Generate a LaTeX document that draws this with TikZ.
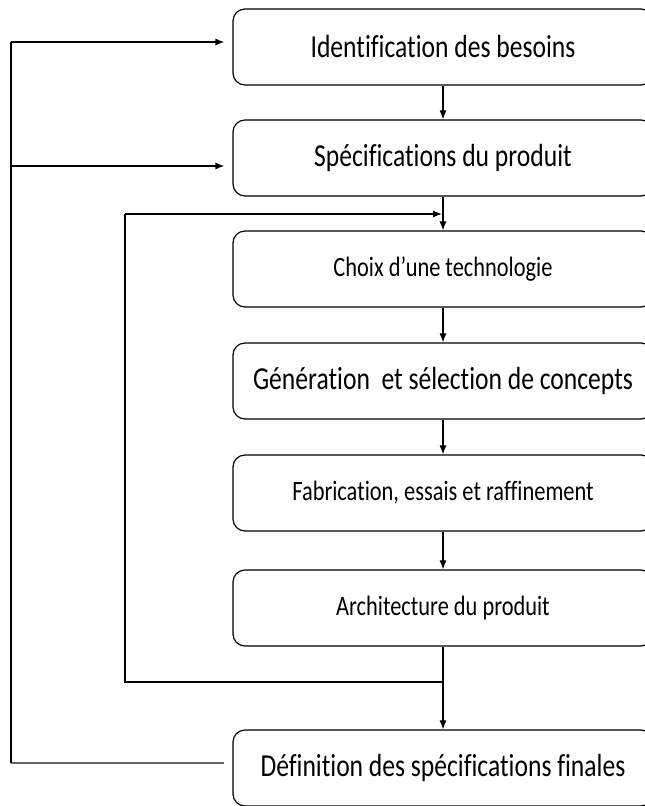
\documentclass[tikz,border=0pt]{standalone}
\usepackage{fontspec}
\usepackage{tikz}
\usetikzlibrary{positioning,arrows.meta}
\newfontfamily\boxfont[FakeStretch=0.8, Ligatures=NoCommon]{Carlito}
\tikzset{
  etape/.style={draw, line width=1.2pt, rounded corners=12pt, minimum width=420pt, minimum height=76pt, inner sep=0pt},
  grand/.style={font=\boxfont\fontsize{32}{36}\selectfont},
  petit/.style={font=\boxfont\fontsize{28}{32}\selectfont},
  fleche/.style={line width=1.2pt, -{Latex[length=9pt,width=7pt]}},
  ligne/.style={line width=1.2pt}
}

\begin{document}
\begin{tikzpicture}[x=1pt, y=-1pt]

\useasboundingbox (0,0) rectangle (645,806);
\clip (0,0) rectangle (645,806);

% Boxes of the process
\node[etape, grand] (besoins) at (443,47)  {Identification des besoins};
\node[etape, grand] (specs)   at (443,158) {Spécifications du produit};
\node[etape, petit] (techno)  at (443,269) {Choix d’une technologie};
\node[etape, grand] (concept) at (443,381) {Génération\ \ et sélection de concepts};
\node[etape, petit] (fabric)  at (443,493) {Fabrication, essais et raffinement};
\node[etape, petit] (archi)   at (443,608) {Architecture du produit};
\node[etape, grand] (finales) at (443,768) {Définition des spécifications finales};

% Loop points
\coordinate (outer) at (11,0);
\coordinate (inner) at (125,0);
\coordinate (merge) at (443,214);
\coordinate (split) at (443,682);

% Straight arrows down
\draw[fleche] (besoins) -- (specs);
\draw[fleche] (specs) -- (techno);
\draw[fleche] (techno) -- (concept);
\draw[fleche] (concept) -- (fabric);
\draw[fleche] (fabric) -- (archi);
\draw[fleche] (archi) -- (finales);

% Inner loop back to the technology choice
\draw[ligne] (split) -- (split -| inner) -- (merge -| inner);
\draw[fleche] (merge -| inner) -- ([xshift=-1pt]merge);

% Outer loop back to the needs and the specifications
\draw[ligne, gray!80!black] ([xshift=-8pt, yshift=5pt]finales.west) -- ([yshift=5pt]finales.west -| outer);
\draw[ligne] ([yshift=5pt]finales.west -| outer) -- ([yshift=5pt]besoins.west -| outer);
\draw[fleche] ([yshift=5pt]besoins.west -| outer) -- ([xshift=-8pt, yshift=5pt]besoins.west);
\draw[fleche] ([yshift=-8pt]specs.west -| outer) -- ([xshift=-8pt, yshift=-8pt]specs.west);

\end{tikzpicture}
\end{document}
